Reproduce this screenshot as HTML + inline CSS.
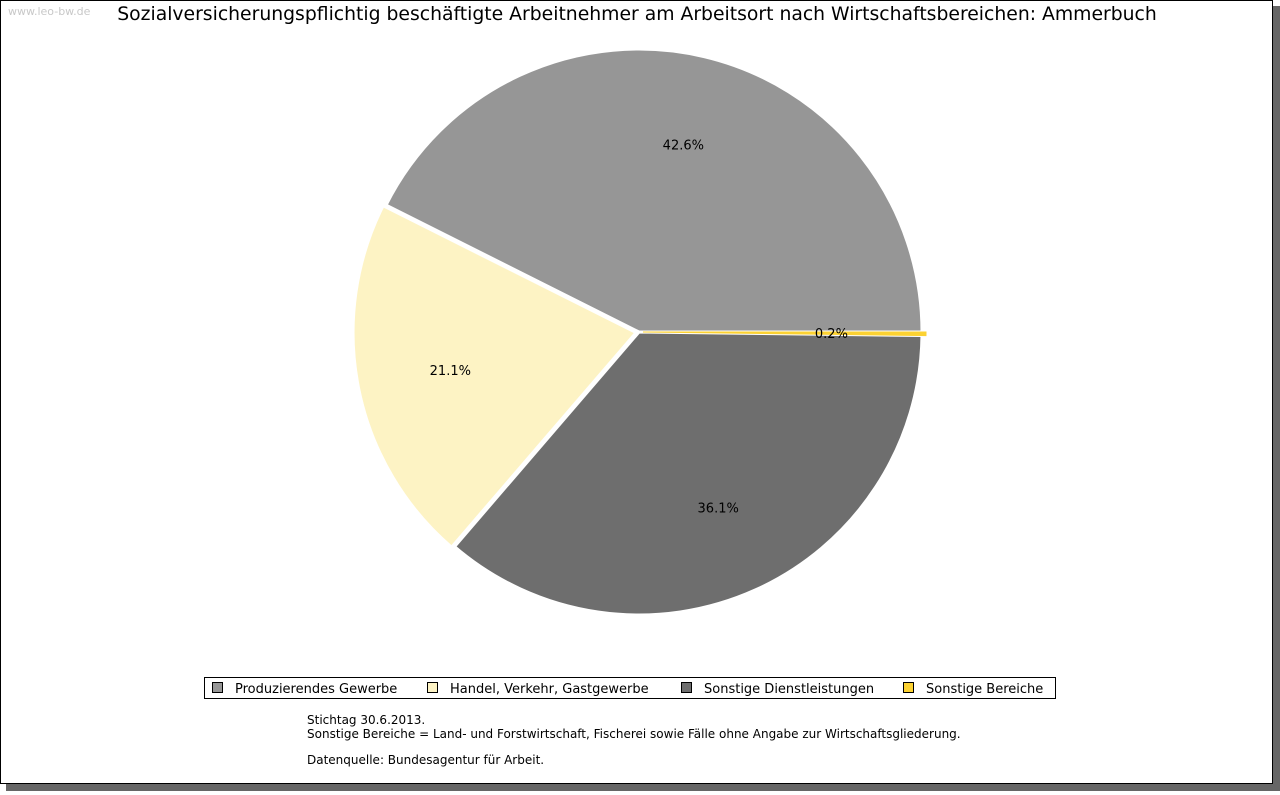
<!DOCTYPE html>
<html><head><meta charset="utf-8"><style>
body{margin:0;background:#fff;width:1280px;height:791px;overflow:hidden;font-family:"DejaVu Sans","Liberation Sans",sans-serif}
</style></head><body>
<svg width="1280" height="791" xmlns="http://www.w3.org/2000/svg">
<rect x="6" y="6" width="1274" height="785" fill="#666"/>
<rect x="0.5" y="0.5" width="1272" height="783" fill="#fff" stroke="#000"/>
<text x="8" y="15" font-size="11" fill="#c8c8c8">www.leo-bw.de</text>
<text x="637" y="20" font-size="18.8" text-anchor="middle" fill="#000">Sozialversicherungspflichtig beschäftigte Arbeitnehmer am Arbeitsort nach Wirtschaftsbereichen: Ammerbuch</text>
<g id="pie"></g>
<g id="labels"></g>
<rect x="204.5" y="677.5" width="851" height="21" fill="#fff" stroke="#000"/>
<g id="legend" font-size="13"></g>
<text font-size="12" fill="#000">
<tspan x="307" y="724">Stichtag 30.6.2013.</tspan>
<tspan x="307" y="738">Sonstige Bereiche = Land- und Forstwirtschaft, Fischerei sowie Fälle ohne Angabe zur Wirtschaftsgliederung.</tspan>
<tspan x="307" y="764">Datenquelle: Bundesagentur für Arbeit.</tspan>
</text>
</svg>
<script>
const categories=["Produzierendes Gewerbe","Handel, Verkehr, Gastgewerbe","Sonstige Dienstleistungen","Sonstige Bereiche"];
const values=[42.6,21.1,36.1,0.2];
const colors=["#969696","#fdf3c4","#6e6e6e","#fcd232"];
const NS="http://www.w3.org/2000/svg";
const cx=639,cy=332,r=283;
const total=values.reduce((a,b)=>a+b,0);
const pie=document.getElementById('pie'),lab=document.getElementById('labels'),leg=document.getElementById('legend');
let a0=0;
values.forEach((v,i)=>{
  const a1=a0+v/total*2*Math.PI;
  const mid=(a0+a1)/2;
  const off=i===3?4:(i===1?3:0);
  const ox=cx+off*Math.cos(mid),oy=cy-off*Math.sin(mid);
  const x0=ox+r*Math.cos(a0),y0=oy-r*Math.sin(a0),x1=ox+r*Math.cos(a1),y1=oy-r*Math.sin(a1);
  const large=(a1-a0)>Math.PI?1:0;
  const p=document.createElementNS(NS,'path');
  p.setAttribute('d',`M${ox},${oy}L${x0},${y0}A${r},${r} 0 ${large} 0 ${x1},${y1}Z`);
  p.setAttribute('fill',colors[i]);
  if(i===3){p.setAttribute('stroke',colors[i]);p.setAttribute('stroke-width','1');}
  else{p.setAttribute('stroke','#fff');p.setAttribute('stroke-width','3');p.setAttribute('stroke-linejoin','round');}
  
  
  pie.appendChild(p);
  const lr=r*0.68;
  const t=document.createElementNS(NS,'text');
  t.setAttribute('x',cx+lr*Math.cos(mid));t.setAttribute('y',cy-lr*Math.sin(mid)+5);
  t.setAttribute('text-anchor','middle');t.setAttribute('font-size','13');
  t.textContent=v.toFixed(1)+'%';
  
  
  lab.appendChild(t);
  a0=a1;
});
const lx=[212,427,681,903];
categories.forEach((c,i)=>{
  const g=document.createElementNS(NS,'g');
  
  
  const s=document.createElementNS(NS,'rect');
  s.setAttribute('x',lx[i]+0.5);s.setAttribute('y',682.5);s.setAttribute('width',10);s.setAttribute('height',10);
  s.setAttribute('fill',colors[i]);s.setAttribute('stroke','#000');
  g.appendChild(s);
  const t=document.createElementNS(NS,'text');
  t.setAttribute('x',lx[i]+23);t.setAttribute('y',693);t.textContent=c;
  g.appendChild(t);
  leg.appendChild(g);
});
</script>
</body></html>
